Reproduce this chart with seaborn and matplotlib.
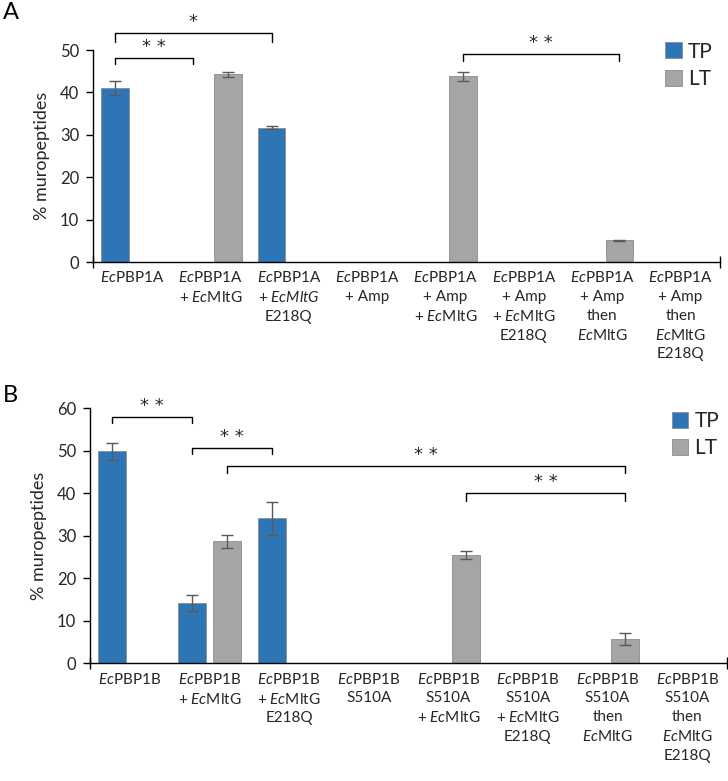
import numpy as np
import pandas as pd
import matplotlib.pyplot as plt
import seaborn as sns

# ---------------------------------------
# Data
# ---------------------------------------
labels_a = [r'$\mathit{Ec}$PBP1A',
            '$\\mathit{Ec}$PBP1A\n+ $\\mathit{Ec}$MltG',
            '$\\mathit{Ec}$PBP1A\n+ $\\mathit{EcMltG}$\nE218Q',
            '$\\mathit{Ec}$PBP1A\n+ Amp',
            '$\\mathit{Ec}$PBP1A\n+ Amp\n+ $\\mathit{Ec}$MltG',
            '$\\mathit{Ec}$PBP1A\n+ Amp\n+ $\\mathit{Ec}$MltG\nE218Q',
            '$\\mathit{Ec}$PBP1A\n+ Amp\nthen\n$\\mathit{Ec}$MltG',
            '$\\mathit{Ec}$PBP1A\n+ Amp\nthen\n$\\mathit{Ec}$MltG\nE218Q']
tp_a = [41.1, 0, 31.7, 0, 0, 0, 0, 0]
tp_err_a = [1.6, 0, 0.3, 0, 0, 0, 0, 0]
lt_a = [0, 44.3, 0, 0, 43.8, 0, 5.1, 0]
lt_err_a = [0, 0.6, 0, 0, 1.0, 0, 0.1, 0]

labels_b = [r'$\mathit{Ec}$PBP1B',
            '$\\mathit{Ec}$PBP1B\n+ $\\mathit{Ec}$MltG',
            '$\\mathit{Ec}$PBP1B\n+ $\\mathit{Ec}$MltG\nE218Q',
            '$\\mathit{Ec}$PBP1B\nS510A',
            '$\\mathit{Ec}$PBP1B\nS510A\n+ $\\mathit{Ec}$MltG',
            '$\\mathit{Ec}$PBP1B\nS510A\n+ $\\mathit{Ec}$MltG\nE218Q',
            '$\\mathit{Ec}$PBP1B\nS510A\nthen\n$\\mathit{Ec}$MltG',
            '$\\mathit{Ec}$PBP1B\nS510A\nthen\n$\\mathit{Ec}$MltG\nE218Q']
tp_b = [49.9, 14.1, 34.1, 0, 0, 0, 0, 0]
tp_err_b = [2.0, 1.9, 3.9, 0, 0, 0, 0, 0]
lt_b = [0, 28.7, 0, 0, 25.5, 0, 5.7, 0]
lt_err_b = [0, 1.6, 0, 0, 1.0, 0, 1.4, 0]

# significance brackets: (series a, category a, series b, category b, label)
sig_a = [(0, 0, 0, 2, '*'), (0, 0, 0, 1, '**'), (1, 4, 1, 6, '**')]
sig_b = [(0, 0, 0, 1, '**'), (0, 1, 0, 2, '**'), (1, 1, 1, 6, '**'), (1, 4, 1, 6, '**')]

BLUE = '#2E75B6'
GRAY = '#A5A5A5'
TEXT = '#262626'

sns.set_style('white')
plt.rcParams['font.family'] = ['Lato', 'DejaVu Sans']
plt.rcParams['mathtext.fontset'] = 'custom'
plt.rcParams['mathtext.rm'] = 'Lato'
plt.rcParams['mathtext.it'] = 'Lato:italic'


def draw_panel(ax, labels, tp, tp_err, lt, lt_err, ymax, sigs, bracket_y, leg_anchor):
    df = pd.DataFrame({'cond': labels * 2,
                       'series': ['TP'] * len(labels) + ['LT'] * len(labels),
                       'value': tp + lt})
    sns.barplot(data=df, x='cond', y='value', hue='series', order=labels,
                palette={'TP': BLUE, 'LT': GRAY}, width=0.88, gap=0.2,
                saturation=1, errorbar=None, edgecolor='#8c8c8c',
                linewidth=0.6, ax=ax)
    # error bars at the bar centres
    centres = []
    for cont, vals, errs in zip(ax.containers, [tp, lt], [tp_err, lt_err]):
        xs = np.array([b.get_x() + b.get_width() / 2 for b in cont])
        centres.append(xs)
        vals, errs = np.array(vals), np.array(errs)
        m = errs > 0
        ax.errorbar(xs[m], vals[m], yerr=errs[m], fmt='none', ecolor='#595959',
                    elinewidth=1, capsize=4, capthick=1)
    # brackets
    for (sa, ca, sb, cb, txt), (top, leg) in zip(sigs, bracket_y):
        xa, xb = centres[sa][ca], centres[sb][cb]
        ax.plot([xa, xa, xb, xb], [leg, top, top, leg], color='black', lw=1,
                clip_on=False)
        ax.text((xa + xb) / 2, top + 0.5, ' '.join(txt), ha='center',
                va='bottom', fontsize=13, color=TEXT, family='DejaVu Sans')

    ax.set_ylim(0, ymax)
    ax.set_yticks(np.arange(0, ymax + 1, 10))
    ax.set_xlim(-0.5, len(labels) - 0.5)
    ax.set_xlabel('')
    ax.set_ylabel('% muropeptides', fontsize=13, color=TEXT, labelpad=7)
    ax.tick_params(axis='y', direction='out', length=5, width=1, color='black',
                   labelsize=12, labelcolor=TEXT, left=True, pad=5)
    ax.tick_params(axis='x', length=0, labelsize=11, labelcolor=TEXT, pad=6)
    ax.set_xticks([-0.5, len(labels) - 0.5], minor=True)
    ax.tick_params(axis='x', which='minor', direction='inout', length=8,
                   width=1, color='black', bottom=True)
    for lab in ax.get_xticklabels():
        lab.set_linespacing(1.42)
    for s in ['top', 'right']:
        ax.spines[s].set_visible(False)
    for s in ['left', 'bottom']:
        ax.spines[s].set_color('black')
        ax.spines[s].set_linewidth(1)
    ax.legend(title=None, frameon=False, loc='upper left',
              bbox_to_anchor=leg_anchor, borderaxespad=0, borderpad=0,
              handlelength=0.8, handleheight=0.8, handletextpad=0.3,
              labelspacing=0.35, fontsize=15)


fig = plt.figure(figsize=(7.28, 7.81), dpi=100)
ax_a = fig.add_axes([0.1277, 0.6645, 0.861, 0.2714])
ax_b = fig.add_axes([0.1236, 0.1507, 0.875, 0.3265])

draw_panel(ax_a, labels_a, tp_a, tp_err_a, lt_a, lt_err_a, 50, sig_a,
           [(54.0, 51.9), (48.1, 46.7), (49.0, 47.5)], (0.913, 1.04))
draw_panel(ax_b, labels_b, tp_b, tp_err_b, lt_b, lt_err_b, 60, sig_b,
           [(57.9, 56.6), (50.7, 49.2), (46.4, 44.8), (40.1, 38.3)], (0.913, 0.99))

fig.text(0.004, 0.997, 'A', fontsize=17, va='top', color='black')
fig.text(0.004, 0.507, 'B', fontsize=17, va='top', color='black')

plt.savefig('out.png', dpi=100)
